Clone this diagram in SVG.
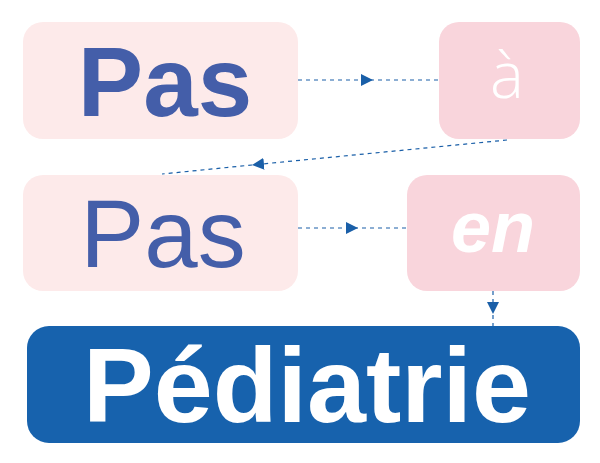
<svg xmlns="http://www.w3.org/2000/svg" width="600" height="463" viewBox="0 0 600 463">
  <defs>
    <style>
      .light { fill: #fdeaea; }
      .pink { fill: #f9d5dc; }
      .dark { fill: #1762ad; }
      .edge { fill: none; stroke: #1a5fa8; stroke-width: 1.2; stroke-dasharray: 4 4; marker-mid: url(#arr); }
      .t { font-family: "Liberation Sans", Arial, Helvetica, sans-serif; text-anchor: middle; }
      .thin { font-family: "Open Sans", "Noto Sans", sans-serif; font-weight: 300; }
      .blue { fill: #445ea9; }
      .white { fill: #ffffff; }
    </style>
    <marker id="arr" viewBox="0 0 12 12" refX="12" refY="6" markerWidth="12" markerHeight="12" markerUnits="userSpaceOnUse" orient="auto">
      <path d="M0,0 L12,6 L0,12 Z" fill="#1a5fa8"/>
    </marker>
  </defs>
  <g id="connectors">
    <path class="edge" d="M298,80 L373,80 L439,80"/>
    <path class="edge" d="M507,140 L252,165 L162,174"/>
    <path class="edge" d="M298,228 L358,228 L407,228"/>
    <path class="edge" d="M493,291 L493,314 L493,326"/>
  </g>
  <g id="node-pas1">
    <rect class="light" x="23" y="22" width="275" height="117" rx="20"/>
    <text class="t blue" x="165" y="116" font-size="98" font-weight="bold">Pas</text>
  </g>
  <g id="node-a">
    <rect class="pink" x="439" y="22" width="141" height="117" rx="20"/>
    <text class="t thin white" x="507" y="98" font-size="64">à</text>
  </g>
  <g id="node-pas2">
    <rect class="light" x="23" y="175" width="275" height="116" rx="20"/>
    <text class="t blue" x="163" y="267" font-size="96">Pas</text>
  </g>
  <g id="node-en">
    <rect class="pink" x="407" y="175" width="173" height="116" rx="20"/>
    <text class="t white" x="493" y="252" font-size="72" font-weight="bold" font-style="italic">en</text>
  </g>
  <g id="node-pediatrie">
    <rect class="dark" x="27" y="326" width="553" height="117" rx="22"/>
    <text class="t white" x="307" y="422" font-size="106" font-weight="bold">Pédiatrie</text>
  </g>
</svg>
